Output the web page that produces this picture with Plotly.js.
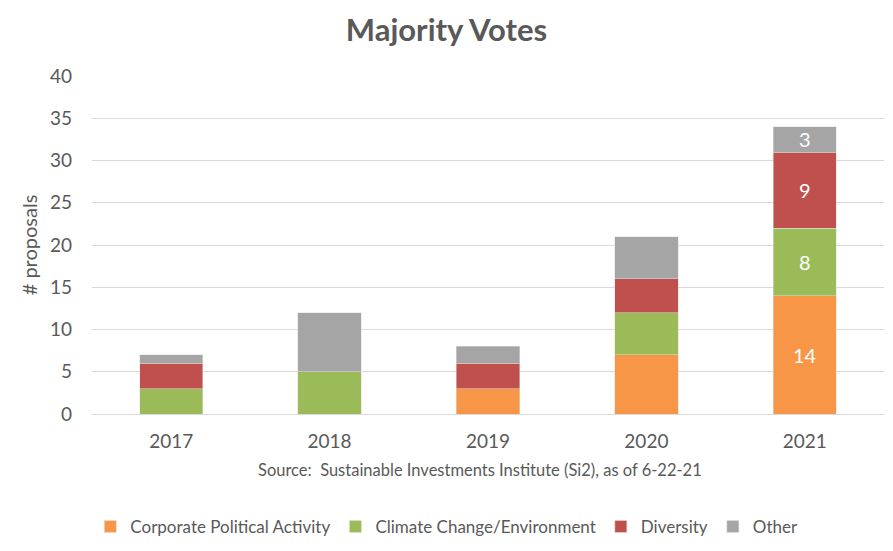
<!DOCTYPE html>
<html>
<head>
<meta charset="utf-8">
<script src="https://cdn.plot.ly/plotly-3.0.1.min.js"></script>
<style>html,body{margin:0;padding:0;background:#fff;}#chart{width:893px;height:551px;}</style>
</head>
<body>
<div id="chart"></div>
<script>
var years = ['2017', '2018', '2019', '2020', '2021'];
var corporatePolitical = [0, 0, 3, 7, 14];
var climateChange = [3, 5, 0, 5, 8];
var diversity = [3, 0, 3, 4, 9];
var other = [1, 7, 2, 5, 3];
var labelsCPA = ['', '', '', '', '14'];
var labelsClimate = ['', '', '', '', '8'];
var labelsDiversity = ['', '', '', '', '9'];
var labelsOther = ['', '', '', '', '3'];

var font = 'Lato, "Open Sans", sans-serif';
function trace(name, y, labels, color) {
  return {
    type: 'bar', name: name, x: years, y: y,
    text: labels, textposition: 'inside', insidetextanchor: 'middle',
    textangle: 0, constraintext: 'none',
    textfont: {family: font, size: 20, color: '#ffffff'},
    marker: {color: color, line: {color: '#e0e0e0', width: 0.5}},
    hoverinfo: 'x+y+name', cliponaxis: false
  };
}
var data = [
  trace('Corporate Political Activity', corporatePolitical, labelsCPA, '#f79646'),
  trace('Climate Change/Environment', climateChange, labelsClimate, '#9bbb59'),
  trace('Diversity', diversity, labelsDiversity, '#c0504d'),
  trace('Other', other, labelsOther, '#a5a5a5')
];
var layout = {
  width: 893, height: 551,
  barmode: 'stack', bargap: 0.6,
  paper_bgcolor: '#ffffff', plot_bgcolor: '#ffffff',
  margin: {l: 92, r: 9, t: 76, b: 137, autoexpand: false},
  font: {family: font, color: '#595959'},
  title: {text: '<b>Majority Votes</b>', x: 0.5, xref: 'container', xanchor: 'center', y: 0.945, yanchor: 'middle',
          font: {family: font, size: 31, color: '#595959'}},
  xaxis: {type: 'category', showgrid: false, showline: true, linecolor: '#d9d9d9', linewidth: 1,
          ticks: '', ticklabelstandoff: 10, tickfont: {family: font, size: 19, color: '#595959'}},
  yaxis: {range: [0, 40], dtick: 5, showgrid: true, gridcolor: '#d9d9d9', gridwidth: 1,
          zeroline: false, showline: false, ticks: '', ticklabelstandoff: 19,
          tickfont: {family: font, size: 19, color: '#595959'},
          title: {text: '# proposals', standoff: 6, font: {family: font, size: 20, color: '#595959'}}},
  showlegend: true,
  legend: {orientation: 'h', x: 0.448, xanchor: 'center', y: -0.334, yanchor: 'middle',
           traceorder: 'normal', font: {family: font, size: 17, color: '#595959'},
           itemwidth: 30, tracegroupgap: 0},
  annotations: [{text: 'Source:  Sustainable Investments Institute (Si2), as of 6-22-21', xref: 'paper', yref: 'paper',
                 x: 0.49, y: -0.166, xanchor: 'center', yanchor: 'middle', showarrow: false,
                 font: {family: font, size: 16.5, color: '#595959'}}]
};
Plotly.newPlot('chart', data, layout, {displayModeBar: false, staticPlot: true});
</script>
</body>
</html>
